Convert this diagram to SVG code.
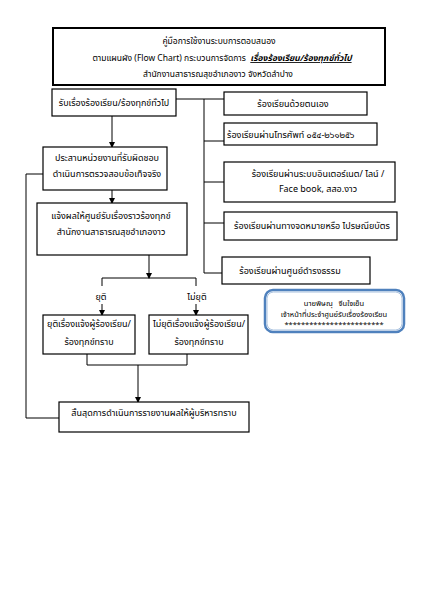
<svg xmlns="http://www.w3.org/2000/svg" width="424" height="600" viewBox="0 0 424 600">
<defs>
<marker id="ah" markerWidth="6" markerHeight="6" refX="5" refY="3" orient="auto" markerUnits="userSpaceOnUse">
<path d="M0,0 L6,3 L0,6 Z" fill="#000"/>
</marker>
</defs>
<style>
.box{fill:#fff;stroke:#000;stroke-width:1.2}
.ln{fill:none;stroke:#000;stroke-width:1}
.t{font-family:"Noto Sans Thai","Noto Sans","DejaVu Sans",sans-serif;font-size:9px;fill:#000}
.c{text-anchor:middle}
.s{font-size:7.5px;white-space:pre}
</style>
<rect width="424" height="600" fill="#fff"/>
<g id="title">
<rect class="box" x="53" y="28" width="332" height="57" style="stroke-width:2"/>
<text class="t c" x="219" y="44" style="font-size:8.5px">คู่มือการใช้งานระบบการตอบสนอง</text>
<text class="t c" x="222" y="61" style="font-size:8.5px;white-space:pre">ตามแผนผัง (Flow Chart) กระบวนการจัดการ  <tspan font-style="italic" font-weight="bold" text-decoration="underline">เรื่องร้องเรียน/ร้องทุกข์ทั่วไป</tspan></text>
<text class="t c" x="218" y="77" style="font-size:8.5px">สำนักงานสาธารณสุขอำเภองาว จังหวัดลำปาง</text>
</g>
<g id="connectors">
<path class="ln" d="M176,99 H224"/>
<path class="ln" d="M204,99 V273 H222"/>
<path class="ln" d="M204,141 H224"/>
<path class="ln" d="M204,182 H224"/>
<path class="ln" d="M204,223 H224"/>
<path class="ln" d="M112,116 V147" marker-end="url(#ah)"/>
<path class="ln" d="M112,190 V203" marker-end="url(#ah)"/>
<path class="ln" d="M43,174 H26 V418 H59"/>
<path class="ln" d="M149,255 V278" marker-end="url(#ah)"/>
<path class="ln" d="M102,286 V278 H196 V286"/>
<path class="ln" d="M102,304 V315" marker-end="url(#ah)"/>
<path class="ln" d="M196,304 V315" marker-end="url(#ah)"/>
<path class="ln" d="M87,354 V365 H187 V354"/>
<path class="ln" d="M138,365 V402" marker-end="url(#ah)"/>
</g>
<g id="receive">
<rect class="box" x="52" y="89" width="124" height="27"/>
<text class="t c" x="114" y="106">รับเรื่องร้องเรียน/ร้องทุกข์ทั่วไป</text>
</g>
<g id="self">
<rect class="box" x="224" y="92" width="143" height="23"/>
<text class="t c" x="293" y="107">ร้องเรียนด้วยตนเอง</text>
</g>
<g id="phone">
<rect class="box" x="224" y="123" width="153" height="22"/>
<text class="t" x="227" y="138">ร้องเรียนผ่านโทรศัพท์ ๐๕๔-๒๖๑๒๕๖</text>
</g>
<g id="internet">
<rect class="box" x="224" y="162" width="171" height="40"/>
<text class="t c" x="318" y="177">ร้องเรียนผ่านระบบอินเตอร์เนต/ ไลน์ /</text>
<text class="t c" x="318" y="192">Face book, สสอ.งาว</text>
</g>
<g id="letter">
<rect class="box" x="224" y="212" width="173" height="28"/>
<text class="t c" x="312" y="229">ร้องเรียนผ่านทางจดหมายหรือ ไปรษณียบัตร</text>
</g>
<g id="damrong">
<rect class="box" x="222" y="257" width="148" height="27"/>
<text class="t c" x="290" y="274">ร้องเรียนผ่านศูนย์ดำรงธรรม</text>
</g>
<g id="coordinate">
<rect class="box" x="43" y="147" width="124" height="43"/>
<text class="t c" x="107" y="161">ประสานหน่วยงานที่รับผิดชอบ</text>
<text class="t c" x="107" y="177">ดำเนินการตรวจสอบข้อเท็จจริง</text>
</g>
<g id="notify">
<rect class="box" x="37" y="203" width="150" height="52"/>
<text class="t c" x="111" y="219">แจ้งผลให้ศูนย์รับเรื่องราวร้องทุกข์</text>
<text class="t c" x="111" y="235">สำนักงานสาธารณสุขอำเภองาว</text>
</g>
<g id="labels">
<text class="t c" x="101" y="300">ยุติ</text>
<text class="t c" x="197" y="300">ไม่ยุติ</text>
</g>
<g id="end">
<rect class="box" x="43" y="315" width="92" height="39"/>
<text class="t c" x="89" y="327">ยุติเรื่องแจ้งผู้ร้องเรียน/</text>
<text class="t c" x="89" y="345">ร้องทุกข์ทราบ</text>
</g>
<g id="notend">
<rect class="box" x="149" y="315" width="99" height="39"/>
<text class="t c" x="199" y="327">ไม่ยุติเรื่องแจ้งผู้ร้องเรียน/</text>
<text class="t c" x="199" y="345">ร้องทุกข์ทราบ</text>
</g>
<g id="final">
<rect class="box" x="59" y="402" width="190" height="30"/>
<text class="t c" x="154" y="416">สิ้นสุดการดำเนินการรายงานผลให้ผู้บริหารทราบ</text>
</g>
<g id="officer">
<rect x="265" y="290" width="139" height="42" rx="8" fill="#fff" stroke="#4f81bd" stroke-width="2.5"/>
<rect x="267" y="292" width="135" height="38" rx="6.5" fill="none" stroke="#a7c0de" stroke-width="1"/>
<text class="t c s" x="334" y="306">นายพิษณุ   จีนใจเย็น</text>
<text class="t c s" x="334" y="317">เจ้าหน้าที่ประจำศูนย์รับเรื่องร้องเรียน</text>
<text class="t c s" x="334" y="327">************************</text>
</g>
</svg>
